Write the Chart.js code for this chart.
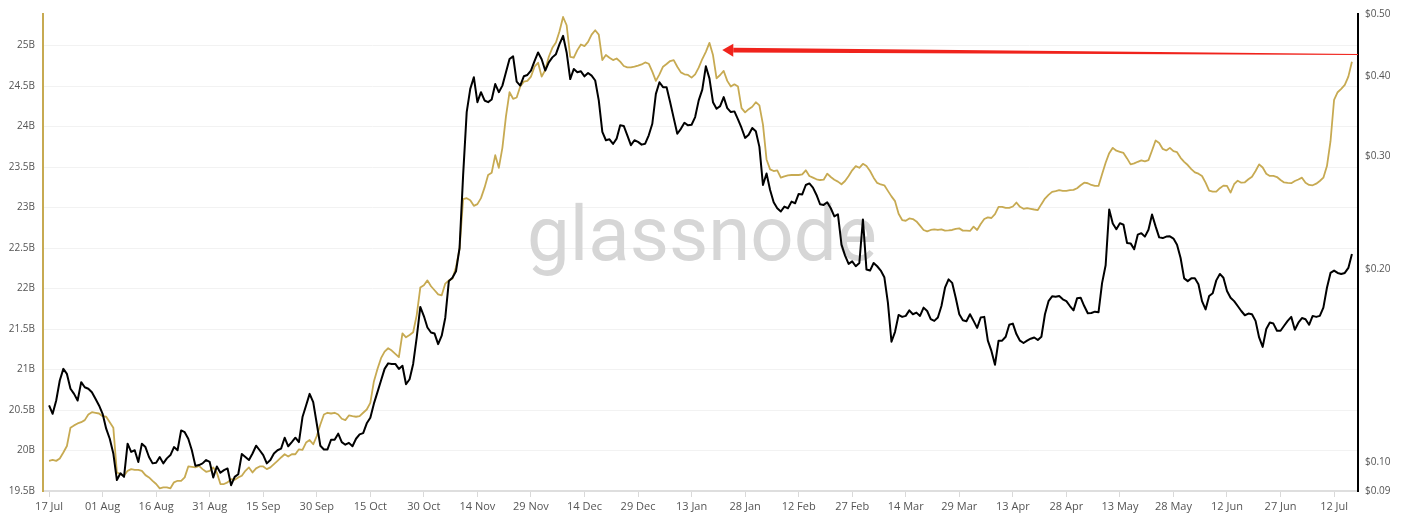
<!DOCTYPE html>
<html>
<head>
<meta charset="utf-8">
<script src="https://cdn.jsdelivr.net/npm/chart.js@4.4.0/dist/chart.umd.min.js"></script>
<style>
  html, body { margin: 0; padding: 0; background: #fff; }
  #wrap { width: 1407px; height: 523px; }
</style>
</head>
<body>
<div id="wrap"><canvas id="chart" width="1407" height="523"></canvas></div>
<script>
// x axis: day offsets from 17 Jul (one point per day)
const X_TICK_DAYS   = [0, 15, 30, 45, 60, 75, 90, 105, 120, 135, 150, 165, 180, 195, 210, 225, 240, 255, 270, 285, 300, 315, 330, 345, 360];
const X_TICK_LABELS = ['17 Jul', '01 Aug', '16 Aug', '31 Aug', '15 Sep', '30 Sep', '15 Oct', '30 Oct', '14 Nov', '29 Nov', '14 Dec', '29 Dec',
                       '13 Jan', '28 Jan', '12 Feb', '27 Feb', '14 Mar', '29 Mar', '13 Apr', '28 Apr', '13 May', '28 May', '12 Jun', '27 Jun', '12 Jul'];

const LEFT_TICKS  = [19.5, 20, 20.5, 21, 21.5, 22, 22.5, 23, 23.5, 24, 24.5, 25];   // billions
const RIGHT_TICKS = [0.09, 0.1, 0.2, 0.3, 0.4, 0.5];                              // USD, log

// gold series, left axis (B)
const METRIC = [
  19.872, 19.884, 19.872, 19.901, 19.975, 20.056, 20.282, 20.310, 20.334, 20.350,
  20.375, 20.445, 20.473, 20.466, 20.457, 20.424, 20.417, 20.350, 20.282, 19.729,
  19.709, 19.688, 19.749, 19.770, 19.761, 19.761, 19.749, 19.696, 19.668, 19.626,
  19.586, 19.533, 19.545, 19.545, 19.533, 19.607, 19.626, 19.626, 19.668, 19.803,
  19.798, 19.791, 19.810, 19.770, 19.737, 19.749, 19.791, 19.729, 19.586, 19.586,
  19.607, 19.647, 19.639, 19.668, 19.688, 19.749, 19.791, 19.729, 19.779, 19.803,
  19.803, 19.770, 19.791, 19.831, 19.872, 19.914, 19.954, 19.926, 19.954, 19.954,
  20.015, 20.007, 20.098, 20.129, 20.077, 20.179, 20.322, 20.445, 20.466, 20.457,
  20.466, 20.445, 20.392, 20.375, 20.433, 20.424, 20.417, 20.424, 20.466, 20.506,
  20.588, 20.853, 21.006, 21.140, 21.221, 21.263, 21.234, 21.193, 21.153, 21.447,
  21.398, 21.426, 21.460, 21.672, 22.012, 22.040, 22.101, 22.028, 21.979, 21.929,
  21.917, 22.061, 22.101, 22.122, 22.264, 22.490, 23.104, 23.116, 23.091, 23.021,
  23.042, 23.116, 23.246, 23.402, 23.430, 23.647, 23.491, 23.737, 24.126, 24.424,
  24.343, 24.359, 24.494, 24.555, 24.564, 24.617, 24.739, 24.788, 24.617, 24.699,
  24.862, 24.972, 25.037, 25.177, 25.353, 25.251, 24.862, 24.850, 24.944, 25.013,
  24.993, 25.046, 25.136, 25.190, 25.136, 24.821, 24.883, 24.850, 24.821, 24.841,
  24.801, 24.748, 24.731, 24.731, 24.739, 24.752, 24.767, 24.792, 24.776, 24.678,
  24.564, 24.645, 24.739, 24.772, 24.809, 24.821, 24.739, 24.669, 24.645, 24.637,
  24.604, 24.645, 24.727, 24.834, 24.923, 25.034, 24.883, 24.596, 24.637, 24.687,
  24.564, 24.494, 24.522, 24.494, 24.228, 24.175, 24.215, 24.245, 24.301, 24.261,
  24.024, 23.594, 23.472, 23.451, 23.460, 23.369, 23.386, 23.398, 23.402, 23.402,
  23.402, 23.410, 23.460, 23.390, 23.369, 23.349, 23.340, 23.344, 23.418, 23.377,
  23.344, 23.320, 23.288, 23.328, 23.390, 23.460, 23.512, 23.491, 23.540, 23.512,
  23.451, 23.369, 23.304, 23.285, 23.275, 23.206, 23.138, 23.079, 22.923, 22.846,
  22.837, 22.866, 22.858, 22.829, 22.776, 22.723, 22.706, 22.723, 22.731, 22.723,
  22.731, 22.715, 22.718, 22.723, 22.736, 22.743, 22.715, 22.715, 22.711, 22.764,
  22.723, 22.797, 22.858, 22.878, 22.871, 22.920, 23.009, 23.009, 22.997, 22.997,
  23.013, 23.062, 23.009, 22.985, 22.993, 22.985, 22.976, 22.969, 23.042, 23.111,
  23.156, 23.193, 23.202, 23.214, 23.206, 23.206, 23.214, 23.218, 23.239, 23.275,
  23.307, 23.300, 23.279, 23.267, 23.267, 23.410, 23.553, 23.672, 23.737, 23.702,
  23.688, 23.675, 23.607, 23.533, 23.545, 23.565, 23.582, 23.570, 23.586, 23.705,
  23.828, 23.798, 23.724, 23.705, 23.737, 23.696, 23.684, 23.614, 23.565, 23.525,
  23.475, 23.435, 23.418, 23.390, 23.307, 23.209, 23.197, 23.197, 23.239, 23.271,
  23.267, 23.185, 23.288, 23.332, 23.307, 23.312, 23.349, 23.381, 23.451, 23.533,
  23.494, 23.418, 23.390, 23.390, 23.377, 23.340, 23.310, 23.304, 23.301, 23.328,
  23.347, 23.369, 23.307, 23.279, 23.275, 23.295, 23.328, 23.369, 23.512, 23.819,
  24.331, 24.424, 24.466, 24.515, 24.617, 24.801
];

// black series, right axis (USD)
const PRICE = [
  0.1224, 0.1188, 0.1246, 0.1339, 0.1396, 0.1371, 0.1300, 0.1276, 0.1246, 0.1331,
  0.1307, 0.1300, 0.1284, 0.1254, 0.1224, 0.1188, 0.1126, 0.1086, 0.1030, 0.0936,
  0.0959, 0.0947, 0.1067, 0.1036, 0.1042, 0.0999, 0.1067, 0.1054, 0.1017, 0.0994,
  0.0996, 0.1017, 0.0994, 0.1012, 0.1024, 0.1054, 0.1042, 0.1119, 0.1112, 0.1086,
  0.1042, 0.0985, 0.0988, 0.0994, 0.1006, 0.0999, 0.0945, 0.0983, 0.0961, 0.0970,
  0.0976, 0.0919, 0.0947, 0.0956, 0.1028, 0.1017, 0.1006, 0.1030, 0.1059, 0.1042,
  0.1024, 0.0994, 0.1006, 0.1030, 0.1042, 0.1048, 0.1090, 0.1057, 0.1073, 0.1090,
  0.1073, 0.1174, 0.1224, 0.1276, 0.1239, 0.1146, 0.1059, 0.1045, 0.1045, 0.1082,
  0.1082, 0.1106, 0.1073, 0.1063, 0.1070, 0.1057, 0.1086, 0.1103, 0.1108, 0.1148,
  0.1171, 0.1232, 0.1284, 0.1339, 0.1396, 0.1424, 0.1421, 0.1421, 0.1396, 0.1412,
  0.1321, 0.1345, 0.1421, 0.1563, 0.1744, 0.1688, 0.1620, 0.1591, 0.1585, 0.1526,
  0.1573, 0.1678, 0.1914, 0.1937, 0.1983, 0.2156, 0.2802, 0.3514, 0.3820, 0.3983,
  0.3642, 0.3775, 0.3664, 0.3642, 0.3677, 0.3887, 0.3775, 0.3865, 0.4054, 0.4252,
  0.4294, 0.3922, 0.3865, 0.3997, 0.4016, 0.4080, 0.4222, 0.4355, 0.4250, 0.4080,
  0.4202, 0.4278, 0.4328, 0.4486, 0.4623, 0.4355, 0.3957, 0.4103, 0.4055, 0.4069,
  0.3996, 0.4044, 0.4006, 0.3937, 0.3665, 0.3272, 0.3176, 0.3187, 0.3134, 0.3194,
  0.3351, 0.3343, 0.3233, 0.3120, 0.3176, 0.3157, 0.3126, 0.3137, 0.3233, 0.3370,
  0.3752, 0.3912, 0.3843, 0.3843, 0.3642, 0.3439, 0.3251, 0.3309, 0.3382, 0.3351,
  0.3358, 0.3452, 0.3665, 0.3809, 0.4143, 0.3967, 0.3642, 0.3556, 0.3590, 0.3708,
  0.3565, 0.3514, 0.3523, 0.3424, 0.3319, 0.3203, 0.3240, 0.3319, 0.3280, 0.3101,
  0.2704, 0.2818, 0.2656, 0.2541, 0.2487, 0.2458, 0.2502, 0.2487, 0.2547, 0.2532,
  0.2618, 0.2614, 0.2704, 0.2719, 0.2678, 0.2609, 0.2523, 0.2517, 0.2541, 0.2487,
  0.2415, 0.2434, 0.2182, 0.2098, 0.2036, 0.2055, 0.2019, 0.2043, 0.2389, 0.1995,
  0.1988, 0.2043, 0.2019, 0.1988, 0.1941, 0.1771, 0.1539, 0.1595, 0.1695, 0.1683,
  0.1689, 0.1723, 0.1699, 0.1709, 0.1689, 0.1740, 0.1719, 0.1669, 0.1659, 0.1679,
  0.1750, 0.1869, 0.1926, 0.1902, 0.1803, 0.1699, 0.1663, 0.1657, 0.1699, 0.1659,
  0.1618, 0.1679, 0.1683, 0.1545, 0.1489, 0.1417, 0.1545, 0.1545, 0.1567, 0.1636,
  0.1643, 0.1582, 0.1545, 0.1532, 0.1545, 0.1556, 0.1563, 0.1549, 0.1567, 0.1699,
  0.1781, 0.1812, 0.1809, 0.1814, 0.1793, 0.1781, 0.1750, 0.1723, 0.1799, 0.1803,
  0.1750, 0.1705, 0.1707, 0.1715, 0.1711, 0.1900, 0.2026, 0.2476, 0.2355, 0.2307,
  0.2357, 0.2344, 0.2195, 0.2192, 0.2146, 0.2262, 0.2274, 0.2246, 0.2302, 0.2432,
  0.2330, 0.2240, 0.2234, 0.2246, 0.2248, 0.2230, 0.2182, 0.2080, 0.1933, 0.1914,
  0.1933, 0.1933, 0.1892, 0.1781, 0.1729, 0.1814, 0.1832, 0.1919, 0.1964, 0.1937,
  0.1847, 0.1803, 0.1781, 0.1750, 0.1719, 0.1693, 0.1703, 0.1699, 0.1659, 0.1563,
  0.1511, 0.1611, 0.1649, 0.1643, 0.1601, 0.1601, 0.1630, 0.1659, 0.1683, 0.1607,
  0.1648, 0.1676, 0.1669, 0.1636, 0.1689, 0.1683, 0.1689, 0.1740, 0.1869, 0.1971,
  0.1988, 0.1971, 0.1964, 0.1971, 0.2007, 0.2110
];

// red annotation arrow: from the right edge at ARROW_FROM_VALUE to the mid-Jan peak
const ARROW_FROM_VALUE = 24.89;
const ARROW_TO_DAY     = 188.6;
const ARROW_TO_VALUE   = 24.944;

const GOLD = '#c7aa52';
const DAYS = METRIC.map((_, i) => i);

Chart.defaults.font.family = "'Open Sans', 'DejaVu Sans', sans-serif";

const watermark = {
  id: 'watermark',
  beforeDatasetsDraw(chart) {
    const ctx = chart.ctx;
    ctx.save();
    ctx.font = '400 76px Roboto';
    const size = 76 * 350 / ctx.measureText('glassnode').width;
    ctx.font = `400 ${size}px Roboto`;
    ctx.fillStyle = '#d6d6d6';
    ctx.textBaseline = 'alphabetic';
    ctx.fillText('glassnode', 527, 260);
    ctx.restore();
  }
};

const arrow = {
  id: 'arrow',
  afterDatasetsDraw(chart) {
    const { ctx, chartArea, scales } = chart;
    const x0 = chartArea.right, y0 = scales.y.getPixelForValue(ARROW_FROM_VALUE);
    const x1 = scales.x.getPixelForValue(ARROW_TO_DAY), y1 = scales.y.getPixelForValue(ARROW_TO_VALUE);
    const ang = Math.atan2(y1 - y0, x1 - x0);
    const nx = -Math.sin(ang), ny = Math.cos(ang);
    const bx = x1 - 11 * Math.cos(ang), by = y1 - 11 * Math.sin(ang);
    ctx.save();
    ctx.fillStyle = '#f0231c';
    // tapered shaft
    ctx.beginPath();
    ctx.moveTo(x0 + nx * 0.5, y0 + ny * 0.5);
    ctx.lineTo(bx + nx * 2.4, by + ny * 2.4);
    ctx.lineTo(bx - nx * 2.4, by - ny * 2.4);
    ctx.lineTo(x0 - nx * 0.5, y0 - ny * 0.5);
    ctx.closePath();
    ctx.fill();
    // head
    ctx.beginPath();
    ctx.moveTo(x1, y1);
    ctx.lineTo(bx + nx * 6.5, by + ny * 6.5);
    ctx.lineTo(bx - nx * 6.5, by - ny * 6.5);
    ctx.closePath();
    ctx.fill();
    ctx.restore();
  }
};

new Chart(document.getElementById('chart'), {
  type: 'line',
  data: {
    labels: DAYS,
    datasets: [
      { label: 'Price', data: PRICE, yAxisID: 'y1', borderColor: '#000', borderWidth: 2,
        pointRadius: 0, tension: 0, borderJoinStyle: 'round' },
      { label: 'Metric', data: METRIC, yAxisID: 'y', borderColor: GOLD, borderWidth: 1.8,
        pointRadius: 0, tension: 0, borderJoinStyle: 'round' },
    ],
  },
  options: {
    responsive: false, animation: false, devicePixelRatio: 1,
    layout: { padding: { top: 11, left: 0, right: 0, bottom: 0 } },
    plugins: { legend: { display: false }, tooltip: { enabled: false } },
    scales: {
      x: {
        type: 'linear', min: -1.7, max: 366.7,
        afterBuildTicks: a => { a.ticks = X_TICK_DAYS.map(v => ({ value: v })); },
        afterFit: a => { a.height = 32; },
        grid: { drawOnChartArea: false, drawTicks: true, tickLength: 6, color: '#d9d9d9' },
        border: { color: '#dedede', width: 2 },
        ticks: { color: '#555', font: { size: 11 }, padding: 3, maxRotation: 0, autoSkip: false,
                 callback: (v, i) => X_TICK_LABELS[i] },
      },
      y: {
        type: 'linear', position: 'left', min: 19.5, max: 25.39,
        afterBuildTicks: a => { a.ticks = LEFT_TICKS.map(v => ({ value: v })); },
        afterFit: a => { a.width = 43; },
        grid: { color: '#f2f2f2', drawTicks: false },
        border: { color: GOLD, width: 2 },
        ticks: { color: '#555', font: { size: 10 }, padding: 8, callback: v => v + 'B' },
      },
      y1: {
        type: 'logarithmic', position: 'right', min: 0.09, max: 0.5,
        afterBuildTicks: a => { a.ticks = RIGHT_TICKS.map(v => ({ value: v })); },
        afterFit: a => { a.width = 49; },
        grid: { drawOnChartArea: false, drawTicks: false },
        border: { color: '#000', width: 2 },
        ticks: { color: '#555', font: { size: 10 }, padding: 7, callback: v => '$' + v.toFixed(2) },
      },
    },
  },
  plugins: [watermark, arrow],
});
</script>
</body>
</html>
